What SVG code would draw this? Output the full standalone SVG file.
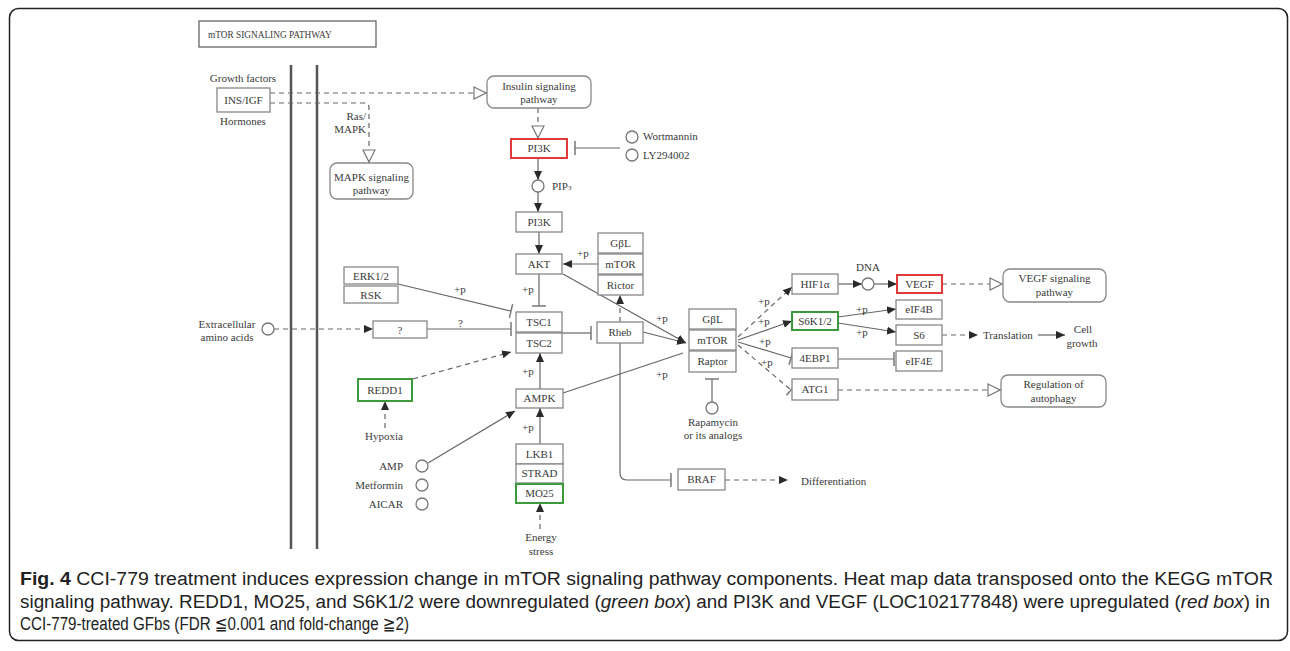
<svg xmlns="http://www.w3.org/2000/svg" width="1290" height="651" viewBox="0 0 1290 651">
<style>
.n{fill:#fff;stroke:#888;stroke-width:1.3}
.g{fill:#fff;stroke:#3c9a3c;stroke-width:2}
.r{fill:#fff;stroke:#e23a3a;stroke-width:2}
.t{font-family:"Liberation Serif","Times New Roman",serif;font-size:11px;fill:#3a3a3a}
.c{text-anchor:middle}
.e{text-anchor:end}
.l{fill:none;stroke:#666;stroke-width:1.2}
.d{stroke-dasharray:5 4}
.cap{font-family:"Liberation Sans","DejaVu Sans",sans-serif;font-size:18px;fill:#222}
.ci{fill:#fff;stroke:#777;stroke-width:1.3}
</style>
<defs>
<marker id="arr" viewBox="0 0 9 8" refX="9" refY="4" markerWidth="9" markerHeight="8" markerUnits="userSpaceOnUse" orient="auto"><path d="M0,0 L9,4 L0,8 z" fill="#2a2a2a"/></marker>
<marker id="tri" viewBox="0 0 14 14" refX="14" refY="7" markerWidth="14" markerHeight="14" markerUnits="userSpaceOnUse" orient="auto"><path d="M1,1 L13,7 L1,13 z" fill="#fff" stroke="#777" stroke-width="1.2"/></marker>
<marker id="bar" viewBox="-2 -8 4 16" refX="0" refY="0" markerWidth="4" markerHeight="16" markerUnits="userSpaceOnUse" orient="auto"><path d="M0,-7 V7" stroke="#777" stroke-width="1.5"/></marker>
</defs>
<rect x="0" y="0" width="1290" height="651" fill="#fff"/>
<rect x="9.5" y="8.5" width="1278" height="632" rx="9" fill="none" stroke="#222" stroke-width="1.5"/>

<g id="title"><rect x="199" y="21" width="177" height="26" fill="#fff" stroke="#666" stroke-width="1.3"/><text class="t" x="208" y="38" style="font-size:9.3px">mTOR SIGNALING PATHWAY</text></g>
<g id="membrane"><line x1="291" y1="65" x2="291" y2="549" stroke="#555" stroke-width="2.5"/><line x1="317" y1="65" x2="317" y2="549" stroke="#555" stroke-width="2.5"/></g>

<g id="connectors">
<path class="l d" d="M270,93 H487" marker-end="url(#tri)"/>
<path class="l d" d="M270,103 H364 Q369,103 369,108 V163" marker-end="url(#tri)"/>
<path class="l d" d="M538,108 V139" marker-end="url(#tri)"/>
<path class="l" d="M620,148 H575" marker-end="url(#bar)"/>
<path class="l" d="M538,158 V180" marker-end="url(#arr)"/>
<path class="l" d="M538,192 V212" marker-end="url(#arr)"/>
<path class="l" d="M539,232 V254" marker-end="url(#arr)"/>
<path class="l" d="M598,264 H563" marker-end="url(#arr)"/>
<path class="l" d="M539,274 V306" marker-end="url(#bar)"/>
<path class="l" d="M398,284 L511,311" marker-end="url(#bar)"/>
<path class="l" d="M427,329 H511" marker-end="url(#bar)"/>
<path class="l d" d="M274,329 H373" marker-end="url(#arr)"/>
<path class="l" d="M562,333 H591" marker-end="url(#bar)"/>
<path class="l d" d="M620,322 V295" marker-end="url(#arr)"/>
<path class="l" d="M643,332 L686,343" marker-end="url(#arr)"/>
<path class="l" d="M563,274 L686,343" marker-end="url(#arr)"/>
<path class="l" d="M563,393 L683,353"/>
<path class="l" d="M620,343 V473 Q620,480 627,480 H671" marker-end="url(#bar)"/>
<path class="l d" d="M725,480 H788" marker-end="url(#arr)"/>
<path class="l" d="M712,402 V379" marker-end="url(#bar)"/>
<path class="l d" d="M738,337 L792,287" marker-end="url(#arr)"/>
<path class="l" d="M738,340 L792,321" marker-end="url(#arr)"/>
<path class="l" d="M738,342 L791,358" marker-end="url(#bar)"/>
<path class="l d" d="M738,345 L791,390" marker-end="url(#bar)"/>
<path class="l" d="M838,284 H862" marker-end="url(#arr)"/>
<path class="l" d="M874,284 H897" marker-end="url(#arr)"/>
<path class="l d" d="M942,284 H1003" marker-end="url(#tri)"/>
<path class="l" d="M838,317 L896,309" marker-end="url(#arr)"/>
<path class="l" d="M838,323 L896,332" marker-end="url(#arr)"/>
<path class="l" d="M838,359 H894" marker-end="url(#bar)"/>
<path class="l d" d="M942,335 H978" marker-end="url(#arr)"/>
<path class="l" d="M1038,335 H1065" marker-end="url(#arr)"/>
<path class="l d" d="M838,390 H1001" marker-end="url(#tri)"/>
<path class="l d" d="M413,379 L511,352" marker-end="url(#arr)"/>
<path class="l d" d="M385,428 V401" marker-end="url(#arr)"/>
<path class="l" d="M428,463 L515,411" marker-end="url(#arr)"/>
<path class="l" d="M540,389 V353" marker-end="url(#arr)"/>
<path class="l" d="M540,444 V408" marker-end="url(#arr)"/>
<path class="l d" d="M540,529 V503" marker-end="url(#arr)"/>
<text class="t" x="577" y="257">+p</text>
<text class="t" x="522" y="293">+p</text>
<text class="t" x="454" y="293">+p</text>
<text class="t" x="458" y="327">?</text>
<text class="t" x="522" y="375">+p</text>
<text class="t" x="522" y="431">+p</text>
<text class="t" x="656" y="322">+p</text>
<text class="t" x="656" y="378">+p</text>
<text class="t" x="758" y="305">+p</text>
<text class="t" x="758" y="325">+p</text>
<text class="t" x="759" y="345">+p</text>
<text class="t" x="761" y="366">+p</text>
<text class="t" x="856" y="313">+p</text>
<text class="t" x="856" y="336">+p</text>
</g>

<g id="growth-factors"><text class="t c" x="243" y="82">Growth factors</text><rect class="n" x="217" y="88" width="53" height="24"/><text class="t c" x="243.5" y="104">INS/IGF</text><text class="t c" x="243" y="125">Hormones</text></g>
<g id="ras-mapk"><text class="t e" x="366" y="120">Ras/</text><text class="t e" x="366" y="133">MAPK</text></g>
<g id="insulin"><rect class="n" x="487" y="76" width="104" height="32" rx="7"/><text class="t c" x="539" y="90">Insulin signaling</text><text class="t c" x="539" y="103">pathway</text></g>
<g id="mapk"><rect class="n" x="330" y="163" width="83" height="36" rx="7"/><text class="t c" x="371.5" y="181">MAPK signaling</text><text class="t c" x="371.5" y="194">pathway</text></g>
<g id="pi3k-red"><rect class="r" x="511" y="139" width="56" height="19"/><text class="t c" x="539" y="152">PI3K</text></g>
<g id="inhibitors"><circle class="ci" cx="632" cy="137" r="6"/><text class="t" x="643" y="140">Wortmannin</text><circle class="ci" cx="632" cy="155" r="6"/><text class="t" x="643" y="159">LY294002</text></g>
<g id="pip3"><circle class="ci" cx="538" cy="186" r="6"/><text class="t" x="552" y="190">PIP<tspan style="font-size:7px">3</tspan></text></g>
<g id="pi3k"><rect class="n" x="516" y="212" width="46" height="20"/><text class="t c" x="539" y="226">PI3K</text></g>
<g id="akt"><rect class="n" x="516" y="254" width="46" height="20"/><text class="t c" x="539" y="268">AKT</text></g>
<g id="mtorc2"><rect class="n" x="598" y="233" width="45" height="20"/><rect class="n" x="598" y="254" width="45" height="20"/><rect class="n" x="598" y="275" width="45" height="20"/><text class="t c" x="620.5" y="247">GβL</text><text class="t c" x="620.5" y="268">mTOR</text><text class="t c" x="620.5" y="289">Rictor</text></g>
<g id="erk"><rect class="n" x="344" y="267" width="54" height="17"/><rect class="n" x="344" y="286" width="54" height="17"/><text class="t c" x="371" y="280">ERK1/2</text><text class="t c" x="371" y="299">RSK</text></g>
<g id="amino"><text class="t c" x="227" y="328">Extracellular</text><text class="t c" x="227" y="341">amino acids</text><circle class="ci" cx="268" cy="329" r="6"/></g>
<g id="unknown"><rect class="n" x="373" y="321" width="54" height="17"/><text class="t c" x="400" y="334">?</text></g>
<g id="tsc"><rect class="n" x="516" y="312" width="46" height="20"/><rect class="n" x="516" y="333" width="46" height="20"/><text class="t c" x="539" y="326">TSC1</text><text class="t c" x="539" y="347">TSC2</text></g>
<g id="rheb"><rect class="n" x="597" y="322" width="46" height="21"/><text class="t c" x="620" y="336">Rheb</text></g>
<g id="mtorc1"><rect class="n" x="689" y="309" width="47" height="20"/><rect class="n" x="689" y="330" width="47" height="20"/><rect class="n" x="689" y="351" width="47" height="21"/><text class="t c" x="712.5" y="323">GβL</text><text class="t c" x="712.5" y="344">mTOR</text><text class="t c" x="712.5" y="365">Raptor</text></g>
<g id="rapamycin"><circle class="ci" cx="712" cy="408" r="6"/><text class="t c" x="713" y="426">Rapamycin</text><text class="t c" x="713" y="439">or its analogs</text></g>
<g id="redd1"><rect class="g" x="358" y="379" width="54" height="22"/><text class="t c" x="385" y="394">REDD1</text></g>
<g id="hypoxia"><text class="t c" x="384" y="440">Hypoxia</text></g>
<g id="ampk"><rect class="n" x="516" y="389" width="47" height="19"/><text class="t c" x="539.5" y="402">AMPK</text></g>
<g id="activators"><text class="t e" x="403" y="470">AMP</text><circle class="ci" cx="422" cy="466" r="6"/><text class="t e" x="403" y="489">Metformin</text><circle class="ci" cx="422" cy="485" r="6"/><text class="t e" x="403" y="508">AICAR</text><circle class="ci" cx="422" cy="504" r="6"/></g>
<g id="lkb1"><rect class="n" x="516" y="444" width="47" height="20"/><rect class="n" x="516" y="464" width="47" height="19"/><rect class="g" x="516" y="484" width="47" height="19"/><text class="t c" x="539.5" y="458">LKB1</text><text class="t c" x="539.5" y="477">STRAD</text><text class="t c" x="539.5" y="497">MO25</text></g>
<g id="energy"><text class="t c" x="541" y="541">Energy</text><text class="t c" x="541" y="555">stress</text></g>
<g id="braf"><rect class="n" x="678" y="469" width="47" height="21"/><text class="t c" x="701.5" y="483">BRAF</text></g>
<g id="differentiation"><text class="t" x="801" y="485">Differentiation</text></g>
<g id="hif1a"><rect class="n" x="792" y="274" width="46" height="20"/><text class="t c" x="815" y="288">HIF1α</text></g>
<g id="dna"><text class="t c" x="868" y="271">DNA</text><circle class="ci" cx="868" cy="284" r="6"/></g>
<g id="vegf"><rect class="r" x="897" y="275" width="45" height="18"/><text class="t c" x="919.5" y="288">VEGF</text></g>
<g id="vegf-pathway"><rect class="n" x="1003" y="269" width="103" height="33" rx="7"/><text class="t c" x="1054.5" y="282">VEGF signaling</text><text class="t c" x="1054.5" y="296">pathway</text></g>
<g id="s6k"><rect class="g" x="792" y="312" width="46" height="18"/><text class="t c" x="815" y="325">S6K1/2</text></g>
<g id="eif4b"><rect class="n" x="896" y="300" width="46" height="19"/><text class="t c" x="919" y="313">eIF4B</text></g>
<g id="s6"><rect class="n" x="896" y="325" width="46" height="20"/><text class="t c" x="919" y="339">S6</text></g>
<g id="translation"><text class="t" x="983" y="339">Translation</text></g>
<g id="cell-growth"><text class="t c" x="1083" y="333">Cell</text><text class="t c" x="1082" y="347">growth</text></g>
<g id="4ebp1"><rect class="n" x="792" y="348" width="46" height="20"/><text class="t c" x="815" y="362">4EBP1</text></g>
<g id="eif4e"><rect class="n" x="896" y="351" width="46" height="20"/><text class="t c" x="919" y="365">eIF4E</text></g>
<g id="atg1"><rect class="n" x="792" y="379" width="46" height="21"/><text class="t c" x="815" y="393">ATG1</text></g>
<g id="autophagy"><rect class="n" x="1001" y="375" width="105" height="32" rx="7"/><text class="t c" x="1053.5" y="388">Regulation of</text><text class="t c" x="1053.5" y="402">autophagy</text></g>

<g id="caption">
<text class="cap" x="20" y="585" textLength="1253" lengthAdjust="spacingAndGlyphs"><tspan font-weight="bold">Fig. 4</tspan> CCI-779 treatment induces expression change in mTOR signaling pathway components. Heat map data transposed onto the KEGG mTOR</text>
<text class="cap" x="20" y="608" textLength="1250" lengthAdjust="spacingAndGlyphs">signaling pathway. REDD1, MO25, and S6K1/2 were downregulated (<tspan font-style="italic">green box</tspan>) and PI3K and VEGF (LOC102177848) were upregulated (<tspan font-style="italic">red box</tspan>) in</text>
<text class="cap" x="20" y="630" textLength="389" lengthAdjust="spacingAndGlyphs">CCI-779-treated GFbs (FDR ≦0.001 and fold-change ≧2)</text>
</g>
</svg>
